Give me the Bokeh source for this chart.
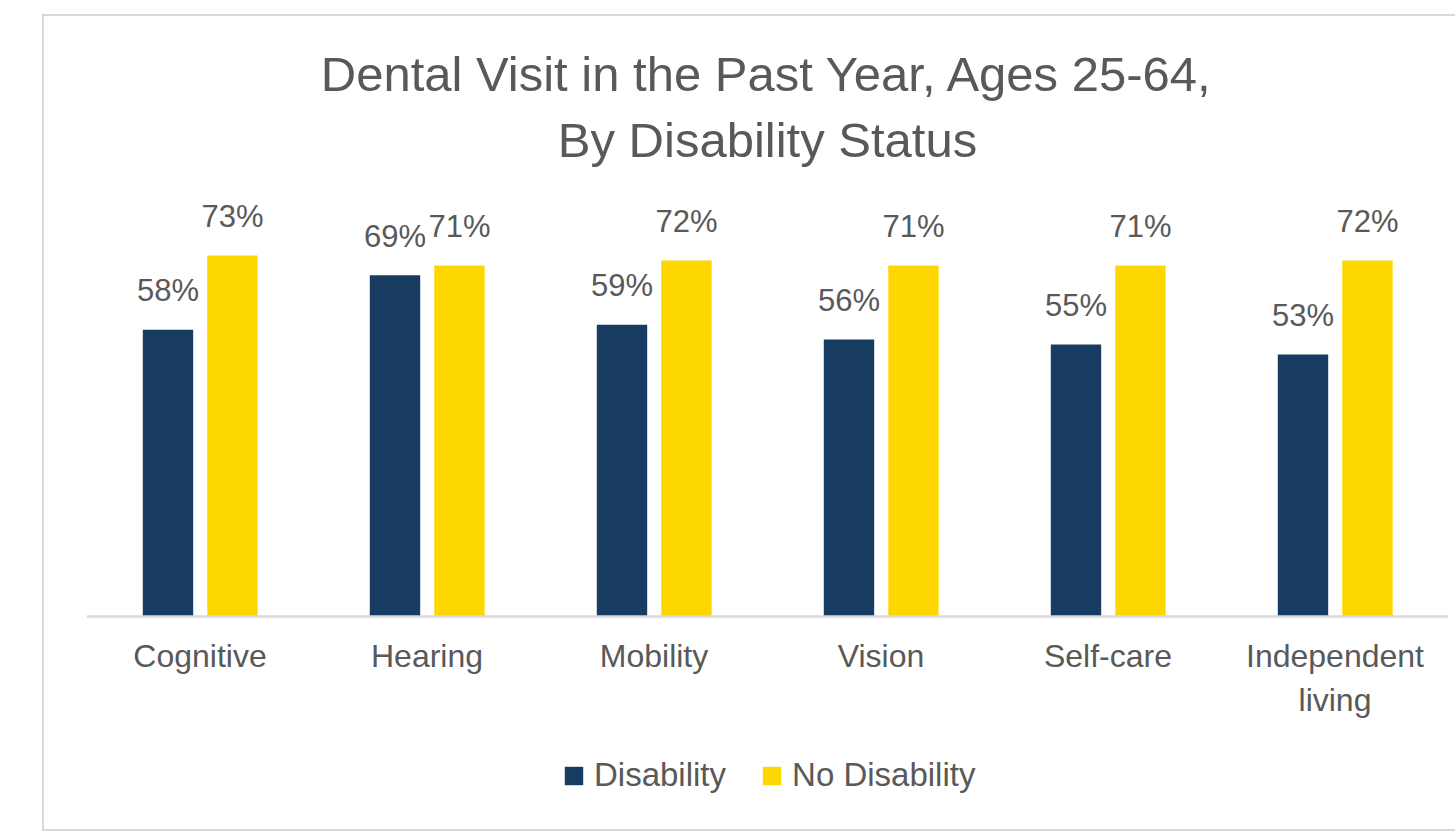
from bokeh.plotting import figure
from bokeh.models import ColumnDataSource, FactorRange, Range1d, Legend, LegendItem, Title
from bokeh.transform import dodge
from bokeh.core.properties import value
from bokeh.embed import file_html
from bokeh.resources import INLINE

categories = ["Cognitive", "Hearing", "Mobility", "Vision", "Self-care", "Independent\nliving"]
disability = [58, 69, 59, 56, 55, 53]
no_disability = [73, 71, 72, 71, 71, 72]
title_line1 = "Dental Visit in the Past Year, Ages 25-64,"
title_line2 = "By Disability Status"

DARK = "#183B62"
GOLD = "#FFD700"
TXT = "#595959"
GRID = "#D9D9D9"

src = ColumnDataSource(dict(
    cat=categories,
    dis=disability,
    nodis=no_disability,
    dis_lbl=[f"{v}%" for v in disability],
    nodis_lbl=[f"{v}%" for v in no_disability],
))

# frame extends below the baseline so the category labels and legend sit inside it
p = figure(x_range=FactorRange(*categories, range_padding=0), y_range=Range1d(-43.08, 90),
           frame_width=1362, frame_height=658, output_backend="svg", toolbar_location=None,
           min_border_left=42, min_border_right=7, min_border_top=155, min_border_bottom=0)
p.styles = {"margin-left": "42px", "margin-top": "14px",
            "border-left": f"2px solid {GRID}", "border-top": f"2px solid {GRID}",
            "border-bottom": f"2px solid {GRID}"}

r1 = p.vbar(x=dodge("cat", -0.141, range=p.x_range), top="dis", width=0.222, source=src,
            fill_color=DARK, line_color=None)
r2 = p.vbar(x=dodge("cat", 0.143, range=p.x_range), top="nodis", width=0.222, source=src,
            fill_color=GOLD, line_color=None)

common = dict(text_align="center", text_baseline="alphabetic", y_offset=-39,
              text_color=TXT, text_font_size="31px", text_font=value("Liberation Sans"))
p.text(x=dodge("cat", -0.141, range=p.x_range), y="dis", text="dis_lbl", source=src, **common)
p.text(x=dodge("cat", 0.143, range=p.x_range), y="nodis", text="nodis_lbl", source=src, **common)

p.yaxis.visible = False
p.xgrid.grid_line_color = None
p.ygrid.grid_line_color = None
p.outline_line_color = None
ax = p.xaxis[0]
ax.fixed_location = 0
ax.axis_line_color = GRID
ax.axis_line_width = 2.5
ax.major_tick_line_color = None
ax.minor_tick_line_color = None
ax.major_tick_out = 0
ax.major_label_standoff = 22
ax.major_label_text_font = "Liberation Sans"
ax.major_label_text_font_size = "32px"
ax.major_label_text_color = TXT

p.title.text = title_line1
p.title.align = "center"
p.title.text_font = "Liberation Sans"
p.title.text_font_size = "49px"
p.title.text_font_style = "normal"
p.title.text_color = TXT
p.add_layout(Title(text=title_line2, align="center", text_font="Liberation Sans",
                   text_font_size="49px", text_font_style="normal", text_color=TXT,
                   standoff=10), "above")

legend = Legend(items=[LegendItem(label="Disability", renderers=[r1]),
                       LegendItem(label="No Disability", renderers=[r2])],
                orientation="horizontal", location=(476, 35),
                label_text_font="Liberation Sans", label_text_font_size="33px",
                label_text_color=TXT, glyph_width=23, glyph_height=23,
                label_standoff=9, spacing=34, border_line_color=None,
                background_fill_alpha=0, margin=0, padding=5)
p.add_layout(legend, "center")

open("out.html", "w").write(file_html(p, INLINE))
